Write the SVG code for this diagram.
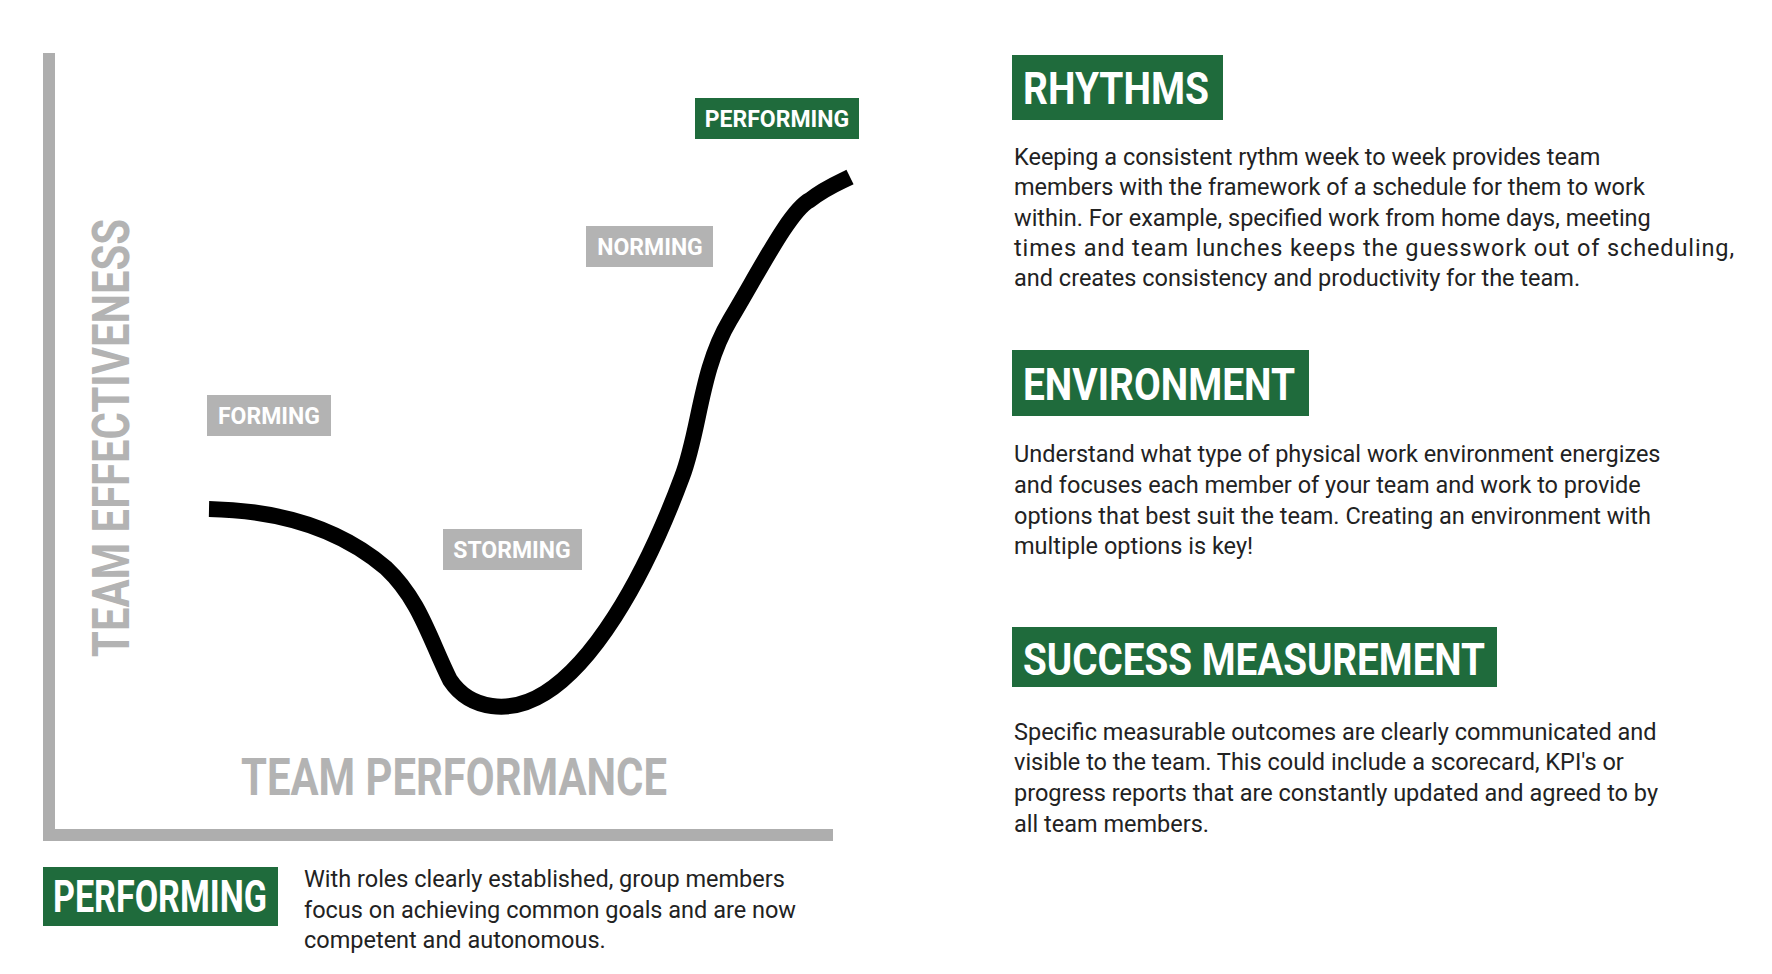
<svg xmlns="http://www.w3.org/2000/svg" width="1772" height="974" viewBox="0 0 1772 974">
<style>
.ax{fill:#aeaeae}
.axl{font-family:Roboto,"Liberation Sans",sans-serif;font-weight:bold;fill:#b3b3b3;font-size:52px}
.gl{fill:#b3b3b3}
.gr{fill:#1f6b3c}
.lt{font-family:Roboto,"Liberation Sans",sans-serif;font-weight:bold;fill:#fff;font-size:23px;text-anchor:middle}
.ht{font-family:Roboto,"Liberation Sans",sans-serif;font-weight:bold;fill:#fff;font-size:44px}
.bt{font-family:Roboto,"Liberation Sans",sans-serif;fill:#222;font-size:23.5px}
</style>
<rect width="1772" height="974" fill="#fff"/>
<g id="axes">
<rect class="ax" x="43" y="53" width="12" height="788"/>
<rect class="ax" x="43" y="829" width="790" height="12"/>
<text class="axl" transform="translate(129,438) rotate(-90)" text-anchor="middle" textLength="438" lengthAdjust="spacingAndGlyphs">TEAM EFFECTIVENESS</text>
<text class="axl" x="454" y="795" text-anchor="middle" textLength="426" lengthAdjust="spacingAndGlyphs">TEAM PERFORMANCE</text>
</g>
<g id="connectors">
<path d="M209,509 C260,510 330,520 386,568 C420,600 430,640 450,680 C470,710 510,715 545,693 C590,665 640,590 682,477 C700,430 700,370 730,320 C760,270 790,210 810,200 C825,188 838,183 850,177" fill="none" stroke="#000" stroke-width="16"/>
</g>
<g id="forming"><rect class="gl" x="207" y="395" width="124" height="41"/><text class="lt" x="269" y="424">FORMING</text></g>
<g id="storming"><rect class="gl" x="443" y="529" width="139" height="41"/><text class="lt" x="512" y="558">STORMING</text></g>
<g id="norming"><rect class="gl" x="586" y="226" width="127" height="41"/><text class="lt" x="650" y="255">NORMING</text></g>
<g id="performing-top"><rect class="gr" x="695" y="98" width="164" height="41"/><text class="lt" x="777" y="127">PERFORMING</text></g>
<g id="rhythms">
<rect class="gr" x="1012" y="55" width="211" height="65"/>
<text class="ht" x="1023" y="104" textLength="186" lengthAdjust="spacingAndGlyphs">RHYTHMS</text>
<text class="bt"><tspan x="1014" y="165">Keeping a consistent rythm week to week provides team</tspan><tspan x="1014" y="195">members with the framework of a schedule for them to work</tspan><tspan x="1014" y="226">within. For example, specified work from home days, meeting</tspan><tspan x="1014" y="256" textLength="720">times and team lunches keeps the guesswork out of scheduling,</tspan><tspan x="1014" y="286">and creates consistency and productivity for the team.</tspan></text>
</g>
<g id="environment">
<rect class="gr" x="1012" y="350" width="297" height="66"/>
<text class="ht" x="1023" y="400" textLength="272" lengthAdjust="spacingAndGlyphs">ENVIRONMENT</text>
<text class="bt"><tspan x="1014" y="462">Understand what type of physical work environment energizes</tspan><tspan x="1014" y="493">and focuses each member of your team and work to provide</tspan><tspan x="1014" y="524">options that best suit the team. Creating an environment with</tspan><tspan x="1014" y="554">multiple options is key!</tspan></text>
</g>
<g id="success">
<rect class="gr" x="1012" y="627" width="485" height="60"/>
<text class="ht" x="1023" y="675" textLength="462" lengthAdjust="spacingAndGlyphs">SUCCESS MEASUREMENT</text>
<text class="bt"><tspan x="1014" y="740">Specific measurable outcomes are clearly communicated and</tspan><tspan x="1014" y="770">visible to the team. This could include a scorecard, KPI's or</tspan><tspan x="1014" y="801">progress reports that are constantly updated and agreed to by</tspan><tspan x="1014" y="832">all team members.</tspan></text>
</g>
<g id="performing-bottom">
<rect class="gr" x="43" y="867" width="235" height="59"/>
<text class="ht" x="53" y="912" font-size="40" textLength="214" lengthAdjust="spacingAndGlyphs">PERFORMING</text>
<text class="bt"><tspan x="304" y="887">With roles clearly established, group members</tspan><tspan x="304" y="918">focus on achieving common goals and are now</tspan><tspan x="304" y="948">competent and autonomous.</tspan></text>
</g>
</svg>
